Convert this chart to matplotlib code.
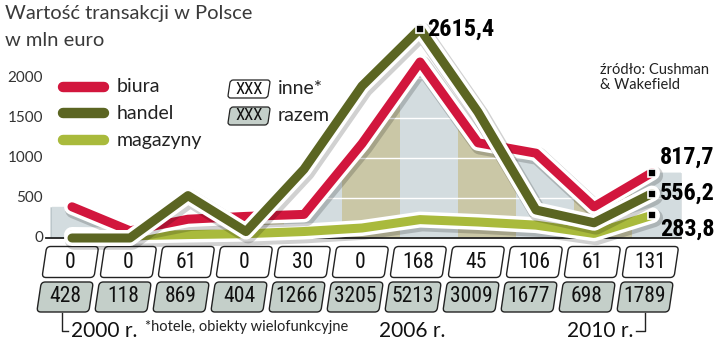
import numpy as np
import matplotlib
matplotlib.use('Agg')
import matplotlib.pyplot as plt
from matplotlib import patheffects as pe
from matplotlib import font_manager
from matplotlib.patches import FancyBboxPatch
from matplotlib.lines import Line2D
from matplotlib.transforms import Affine2D, ScaledTranslation

# dane (mln euro)
years = np.arange(2000, 2011)
biura = [390, 90, 235, 270, 295, 1180, 2200, 1190, 1060, 390, 817.7]
handel = [0, 0, 530, 80, 860, 1900, 2615.4, 1574, 350, 190, 556.2]
magazyny = [38, 28, 43, 54, 81, 125, 230, 200, 161, 57, 283.8]
inne = [0, 0, 61, 0, 30, 0, 168, 45, 106, 61, 131]
razem = [428, 118, 869, 404, 1266, 3205, 5213, 3009, 1677, 698, 1789]
yticks = [0, 500, 1000, 1500, 2000]

names = {f.name for f in font_manager.fontManager.ttflist}
NARROW = [n for n in ['Roboto Condensed', 'Barlow Condensed', 'PT Sans Narrow', 'DejaVu Sans'] if n in names][0]
LIGHT = 'Lato' if 'Lato' in names else 'DejaVu Sans'

RED = '#d2163d'
OLIVE = '#5b6522'
LIME = '#a9ba3c'
BOXGREY = '#c4cfc9'
DARK = '#222222'

W, H = 721, 341
fig = plt.figure(figsize=(W / 100, H / 100), dpi=100)
ax = fig.add_axes([0, 0, 1, 1])
ax.axis('off')

# pixel mapping: x = 72 + 58*i, y = 238 - 0.08*value
x = np.arange(len(years))
ax.set_xlim(-72 / 58, (W - 72) / 58)
ax.set_ylim((238 - H) / 0.08, 238 / 0.08)


def fx(px):
    return px / W


def fy(py):
    return 1 - py / H


# tlo: pole pod biurami w pasy
xa = np.concatenate([[-0.38], x, [10.5]])
ya = np.concatenate([[biura[0]], biura, [biura[-1]]])
area = ax.fill_between(xa, 0, ya, color='#bcc7cb', lw=0, zorder=1)
clip = area.get_paths()[0]
for i in range(len(years)):
    col = '#d3dcdf' if i % 2 == 0 else '#cac7a6'
    band = ax.axvspan(i - 0.35, i + 0.65, color=col, lw=0, zorder=1.1)
    band.set_clip_path(clip, ax.transData)
for v in yticks[1:]:
    gl = ax.axhline(v, color='white', lw=1, zorder=1.2)
    gl.set_clip_path(clip, ax.transData)

ax.plot([-0.45, 10.5], [0, 0], color=DARK, lw=1.3, zorder=2)

for v in yticks:
    ax.text(-0.5, v, str(v), ha='right', va='center', fontsize=11,
            family=LIGHT, color='#333333')

effects = [pe.SimpleLineShadow(offset=(1.5, -2), shadow_color='k', alpha=0.18, linewidth=13),
           pe.Stroke(linewidth=11.5, foreground='white'), pe.Normal()]
for series, col, z in [(magazyny, LIME, 3), (biura, RED, 4), (handel, OLIVE, 5)]:
    ax.plot(x, series, color=col, lw=6.5, solid_capstyle='round',
            solid_joinstyle='round', zorder=z, path_effects=effects)

# etykiety wartosci
labels = [(handel, 6, (5, 0), 'center'), (biura, 10, (6, 3), 'bottom'),
          (handel, 10, (6, 0), 'center'), (magazyny, 10, (6, -2), 'top')]
for series, i, off, va in labels:
    ax.plot(x[i], series[i], marker='s', ms=6, mfc='black', mec='white', mew=1.2, zorder=6)
    ax.annotate(f'{series[i]:.1f}'.replace('.', ','), (x[i], series[i]), xytext=off,
                textcoords='offset points', ha='left', va=va, fontsize=17.5,
                family=NARROW, weight='bold', color='black', zorder=7)

# tabelka: inne / razem
row_y = [(238 - 262.5) / 0.08, (238 - 297) / 0.08]
row_dx = [-0.03, -0.12]
for i in range(len(years)):
    for r, (vals, fc) in enumerate([(inne, 'white'), (razem, BOXGREY)]):
        cx = x[i] + row_dx[r]
        tr = ScaledTranslation(cx, row_y[r], ax.transData)
        p = FancyBboxPatch((-26, -15), 52, 30 if r else 31, boxstyle='round,pad=0,rounding_size=4',
                           fc=fc, ec=DARK, lw=1.0,
                           transform=Affine2D().skew_deg(8.5, 0) + tr, zorder=4)
        ax.add_artist(p)
        ax.text(cx, row_y[r], str(vals[i]), ha='center', va='center', fontsize=15.5,
                family=NARROW, color='#111111', zorder=5)

# lata
yb = (238 - 313) / 0.08
yl = (238 - 331) / 0.08
ax.plot([-0.17, -0.17, -0.07], [yb, yl, yl], color=DARK, lw=1, zorder=4)
ax.plot([9.88, 9.88, 9.73], [yb, yl, yl], color=DARK, lw=1, zorder=4)
ax.text(-0.02, yl, '2000 r.', ha='left', va='center', fontsize=15, family=LIGHT, color='#111111')
ax.text(5.3, yl, '2006 r.', ha='left', va='center', fontsize=15, family=LIGHT, color='#111111')
ax.text(9.68, yl, '2010 r.', ha='right', va='center', fontsize=15, family=LIGHT, color='#111111')
fig.text(fx(145), fy(327), '*hotele, obiekty wielofunkcyjne', ha='left', va='center',
         fontsize=10.5, family=LIGHT, color='#222222')

# tytul i zrodlo
fig.text(fx(5), fy(14), 'Wartość transakcji w Polsce', ha='left', va='center',
         fontsize=14.5, family=LIGHT, weight='normal', color='#3a3a3a')
fig.text(fx(5), fy(40), 'w mln euro', ha='left', va='center',
         fontsize=14.5, family=LIGHT, weight='normal', color='#3a3a3a')
fig.text(fx(600), fy(63), 'źródło: Cushman\n& Wakefield', ha='left', va='top',
         fontsize=10.5, family=LIGHT, color='#222222', linespacing=1.1)

# legenda
for k, (lab, col) in enumerate([('biura', RED), ('handel', OLIVE), ('magazyny', LIME)]):
    py = 87 + 26.5 * k
    fig.add_artist(Line2D([fx(63), fx(104)], [fy(py), fy(py)], color=col, lw=7.5,
                          solid_capstyle='round'))
    fig.text(fx(117), fy(py), lab, ha='left', va='center', fontsize=14,
             family=LIGHT, color='#222222')
for k, (lab, fc) in enumerate([('inne*', 'white'), ('razem', BOXGREY)]):
    py = 89 + 27 * k
    tr = ScaledTranslation(fx(249), fy(py), fig.transFigure)
    p = FancyBboxPatch((-20, -9), 40, 18, boxstyle='round,pad=0,rounding_size=3',
                       fc=fc, ec=DARK, lw=0.9, transform=Affine2D().skew_deg(8.5, 0) + tr)
    fig.add_artist(p)
    fig.text(fx(249), fy(py), 'XXX', ha='center', va='center', fontsize=12,
             family=NARROW, color='#111111')
    fig.text(fx(278), fy(py), lab, ha='left', va='center', fontsize=14,
             family=LIGHT, color='#222222')

fig.savefig('out.png', dpi=100)
